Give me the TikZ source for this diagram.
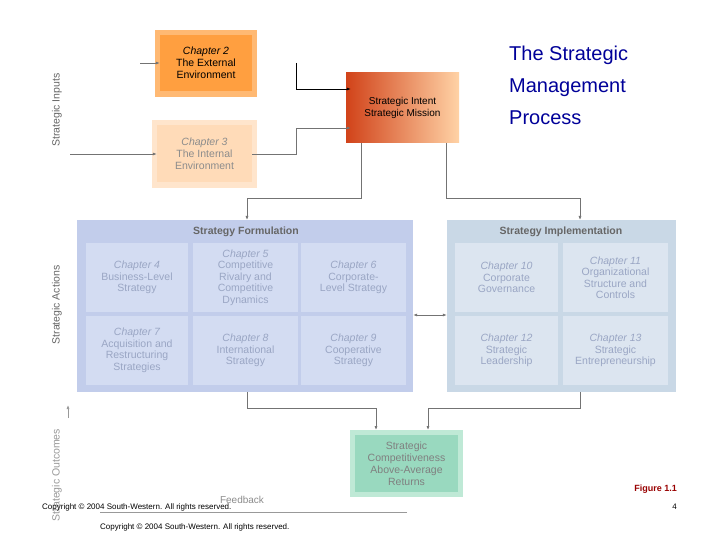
\documentclass[tikz,border=0pt]{standalone}
\usepackage{fontspec}
\setmainfont{Liberation Sans}
\usetikzlibrary{arrows.meta}
\definecolor{celltext}{HTML}{9AA6C4}
\definecolor{panelA}{HTML}{C2CDEB}
\definecolor{cellA}{HTML}{D3DCF2}
\definecolor{panelB}{HTML}{C9D8E6}
\definecolor{cellB}{HTML}{DCE5F0}
\begin{document}
\begin{tikzpicture}[x=1pt,y=-1pt,
  box/.style={draw=none,align=center,font=\fontsize{10.5}{12}\selectfont,inner sep=0pt},
  cell/.style={fill=#1,align=center,font=\fontsize{10.5}{11.5}\selectfont,text=celltext,inner sep=0pt},
  cell/.default=cellA,
  ln/.style={draw=black!55,line width=0.7pt},
  arr/.style={ln,-{Latex[length=4pt,width=3pt]}},
  vlab/.style={rotate=90,font=\fontsize{10.5}{11}\selectfont,text=black!60}]
\useasboundingbox (0,0) rectangle (720,540);
\fill[white] (0,0) rectangle (720,540);
% inputs
\fill[orange!55!white] (155,30) rectangle (257,97);
\node[box,fill=orange!75!white,minimum width=92pt,minimum height=56pt] (ch2) at (206,63) {\itshape Chapter 2\\The External\\Environment};
\fill[orange!20!white] (152,120) rectangle (257,188);
\node[box,fill=orange!28!white,text=black!45,minimum width=95pt,minimum height=57pt] (ch3) at (204.5,154) {\itshape Chapter 3\\The Internal\\Environment};
\shade[left color=red!55!orange!80!black!90,right color=orange!35!white] (346,73) rectangle (459,143);
\node[box,minimum width=103pt,minimum height=60pt,font=\fontsize{10}{12}\selectfont] (intent) at (402.5,108) {Strategic Intent\\Strategic Mission};
\node[align=left,anchor=north west,font=\fontsize{20}{32}\selectfont,text=blue!60!black,inner sep=0pt] (title) at (509,46) {The Strategic\\Management\\Process};
% panels
\node[fill=panelA,minimum width=336pt,minimum height=172pt,inner sep=0pt] (form) at (245,306) {};
\node[font=\bfseries\fontsize{10.5}{11}\selectfont,text=black!60] (formh) at (246,232) {Strategy Formulation};
\node[fill=panelB,minimum width=229pt,minimum height=172pt,inner sep=0pt] (impl) at (561.5,306) {};
\node[font=\bfseries\fontsize{10.5}{11}\selectfont,text=black!60] (implh) at (561,232) {Strategy Implementation};
\node[cell,minimum width=102pt,minimum height=69pt] (c4) at (137,277.5) {\itshape Chapter 4\\Business-Level\\Strategy};
\node[cell,minimum width=105pt,minimum height=69pt] (c5) at (245.5,277.5) {\itshape Chapter 5\\Competitive\\Rivalry and\\Competitive\\Dynamics};
\node[cell,minimum width=105pt,minimum height=69pt] (c6) at (353.5,277.5) {\itshape Chapter 6\\Corporate-\\Level Strategy};
\node[cell,minimum width=102pt,minimum height=69pt] (c7) at (137,350.5) {\itshape Chapter 7\\Acquisition and\\Restructuring\\Strategies};
\node[cell,minimum width=105pt,minimum height=69pt] (c8) at (245.5,350.5) {\itshape Chapter 8\\International\\Strategy};
\node[cell,minimum width=105pt,minimum height=69pt] (c9) at (353.5,350.5) {\itshape Chapter 9\\Cooperative\\Strategy};
\node[cell=cellB,minimum width=103pt,minimum height=69pt] (c10) at (506.5,277.5) {\itshape Chapter 10\\Corporate\\Governance};
\node[cell=cellB,minimum width=105pt,minimum height=69pt] (c11) at (615.5,277.5) {\itshape Chapter 11\\Organizational\\Structure and\\Controls};
\node[cell=cellB,minimum width=103pt,minimum height=69pt] (c12) at (506.5,350.5) {\itshape Chapter 12\\Strategic\\Leadership};
\node[cell=cellB,minimum width=105pt,minimum height=69pt] (c13) at (615.5,350.5) {\itshape Chapter 13\\Strategic\\Entrepreneurship};
% outcome
\fill[green!30!teal!25!white] (350,430) rectangle (463,497);
\node[box,fill=green!25!teal!40!white,text=black!50,minimum width=103pt,minimum height=57pt] (out) at (406.5,463.5) {Strategic\\Competitiveness\\Above-Average\\Returns};
% labels
\node[vlab] (li) at (57,110) {Strategic Inputs};
\node[vlab] (la) at (57,305) {Strategic Actions};
\node[vlab,text=black!40] (lo) at (57,475) {Strategic Outcomes};
% connectors
\coordinate (in0) at (70,154);
\draw[arr] (in0) -- (ch3.west);
\coordinate (in2) at (140,63);
\draw[arr] (in2) -- (ch2.west);
\coordinate (t1) at (296,63);
\draw[arr,draw=black] (t1) |- ([yshift=19pt]intent.west);
\coordinate (t2) at (296,128);
\draw[arr] (ch3.east) -| (t2) -- ([yshift=-20pt]intent.west);
\draw[arr] (361,143) |- (247,198) -- (247,220);
\draw[arr] (446,143) |- (580,198) -- (580,220);
\draw[ln,{Latex[length=4pt,width=3pt]}-{Latex[length=4pt,width=3pt]}] (form.east|-0,315) -- (impl.west|-0,315);
\draw[arr] (247,392) |- (376,408) -- (376,430);
\draw[arr] (580,392) |- (428,408) -- (428,430);
\coordinate (fb0) at (407,512);
\draw[ln,draw=black!40] (fb0) -- (100,512);
\coordinate (up) at (68,405);
\draw[ln,draw=black!40,-{Latex[length=4pt,width=3pt]}] (68,418) -- (up);
\node[text=black!45,font=\fontsize{10}{11}\selectfont] (fb) at (242,500) {Feedback};
\node[anchor=west,font=\fontsize{8}{9}\selectfont,inner sep=0pt] (cp1) at (42,507) {Copyright © 2004 South-Western. All rights reserved.};
\node[anchor=west,font=\fontsize{8}{9}\selectfont,inner sep=0pt] (cp2) at (100,527) {Copyright © 2004 South-Western. All rights reserved.};
\node[anchor=east,font=\bfseries\fontsize{9}{10}\selectfont,text=red!60!black,inner sep=0pt] (fig) at (677,489) {Figure 1.1};
\node[anchor=east,font=\fontsize{8}{9}\selectfont,inner sep=0pt] (pg) at (677,507) {4};
\end{tikzpicture}
\end{document}
